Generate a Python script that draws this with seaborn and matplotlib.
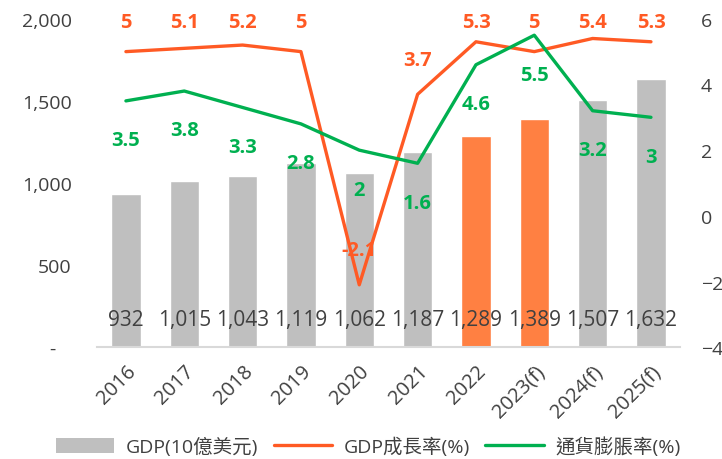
import numpy as np
import pandas as pd
import seaborn as sns
import matplotlib.pyplot as plt
from matplotlib.patches import Patch
from matplotlib.lines import Line2D


# -----------------------------
# DATA
# -----------------------------
years = ["2016", "2017", "2018", "2019", "2020", "2021", "2022",
         "2023(f)", "2024(f)", "2025(f)"]
gdp = [932, 1015, 1043, 1119, 1062, 1187, 1289, 1389, 1507, 1632]
gdp_growth = [5, 5.1, 5.2, 5, -2.1, 3.7, 5.3, 5, 5.4, 5.3]
inflation = [3.5, 3.8, 3.3, 2.8, 2, 1.6, 4.6, 5.5, 3.2, 3]
highlight = ["2022", "2023(f)"]

left_ticks = [0, 500, 1000, 1500, 2000]
left_labels = ["-   ", "500", "1,000", "1,500", "2,000"]
right_ticks = [-4, -2, 0, 2, 4, 6]

GRAY = "#BFBFBF"
ORANGE = "#FF8042"
RED = "#FF5A24"
GREEN = "#00B050"
TEXT = "#404040"

df = pd.DataFrame({"Year": years, "GDP": gdp,
                   "Growth": gdp_growth, "Inflation": inflation})
df["pos"] = np.arange(len(df))

# -----------------------------
# STYLE
# -----------------------------
sns.set_style("white")
plt.rcParams["font.family"] = ["Open Sans", "Noto Sans CJK TC", "DejaVu Sans"]

fig = plt.figure(figsize=(7.22, 4.6), dpi=100)
ax = fig.add_axes([0.134, 0.243, 0.808, 0.714])

# -----------------------------
# BARS (left axis)
# -----------------------------
palette = {y: (ORANGE if y in highlight else GRAY) for y in years}
sns.barplot(data=df, x="Year", y="GDP", hue="Year", palette=palette,
            width=0.5, legend=False, ax=ax, saturation=1)
ax.set_xlim(-0.5, len(years) - 0.5)
ax.set_ylim(0, 2000)
ax.set_yticks(left_ticks)
ax.set_yticklabels(left_labels)
ax.set_xlabel("")
ax.set_ylabel("")

for i, v in enumerate(gdp):
    ax.text(i, 170, f"{v:,}", ha="center", va="center",
            fontsize=15, color=TEXT)

for s in ["top", "left", "right"]:
    ax.spines[s].set_visible(False)
ax.spines["bottom"].set_color("#D9D9D9")
ax.spines["bottom"].set_linewidth(1.5)
ax.tick_params(axis="y", length=0, pad=18, labelsize=14, labelcolor=TEXT)
ax.tick_params(axis="x", length=0, pad=10, labelsize=14.5, labelcolor=TEXT)
for lab in ax.get_xticklabels():
    lab.set_rotation(45)
    lab.set_ha("right")
    lab.set_rotation_mode("anchor")

# -----------------------------
# LINES (right axis)
# -----------------------------
ax2 = ax.twinx()
sns.lineplot(data=df, x="pos", y="Growth", color=RED, linewidth=2.4, ax=ax2)
sns.lineplot(data=df, x="pos", y="Inflation", color=GREEN, linewidth=2.4, ax=ax2)
ax2.set_ylim(-4, 6)
ax2.set_yticks(right_ticks)
ax2.set_ylabel("")
ax2.set_xlabel("")
for s in ["top", "left", "right", "bottom"]:
    ax2.spines[s].set_visible(False)
ax2.tick_params(axis="y", length=0, pad=15, labelsize=14, labelcolor=TEXT)

for i, v in enumerate(gdp_growth):
    ax2.text(i, min(v + 1.05, 5.9), f"{v:g}", ha="center", va="center",
             fontsize=14.5, fontweight="bold", color=RED)
for i, v in enumerate(inflation):
    ax2.text(i, v - 1.2, f"{v:g}", ha="center", va="center",
             fontsize=14.5, fontweight="bold", color=GREEN)

# -----------------------------
# LEGEND
# -----------------------------
handles = [
    Patch(facecolor=GRAY, edgecolor="none", label="GDP(10億美元)"),
    Line2D([0], [0], color=RED, linewidth=2.4, label="GDP成長率(%)"),
    Line2D([0], [0], color=GREEN, linewidth=2.4, label="通貨膨脹率(%)"),
]
leg = fig.legend(handles=handles, loc="center", bbox_to_anchor=(0.51, 0.028),
                 ncol=3, frameon=False, fontsize=14, handlelength=3.0,
                 handleheight=0.8, columnspacing=0.8, handletextpad=0.6)
for t in leg.get_texts():
    t.set_color(TEXT)

fig.savefig("out.png", dpi=100)
